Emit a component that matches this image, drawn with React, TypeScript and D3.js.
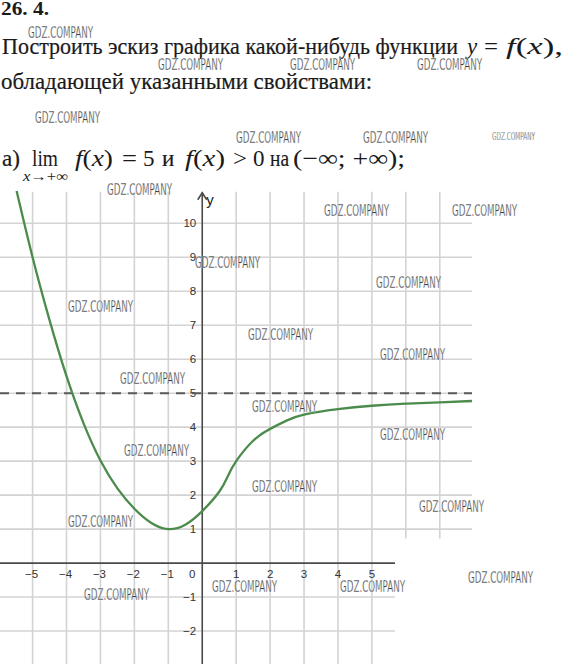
import React from 'react';
import * as d3 from 'd3';

const W = 566;
const H = 664;

// axis extents (data units)
const xDomain: [number, number] = [-5.96, 7.95];
const yDomain: [number, number] = [-2.97, 10.93];
const xLowerRight = 5.68;   // grid/axis right end below the step
const yStep = 0.72;         // where the right part of the grid stops

const xTickValues = [-5, -4, -3, -2, -1, 1, 2, 3, 4, 5];
const yTickValues = [-2, -1, 1, 2, 3, 4, 5, 6, 7, 8, 9, 10];
const gridXFull = [-5, -4, -3, -2, -1, 1, 2, 3, 4, 5];
const gridXUpper = [6, 7];
const gridYUpper = [1, 2, 3, 4, 5, 6, 7, 8, 9, 10];
const gridYLower = [-2, -1];
const asymptoteY = 5;

// curve
const curveX = [-5.47, -5, -4.5, -4, -3.5, -3, -2.5, -2, -1.5, -1, -0.5, 0, 0.5, 0.75, 1, 1.5, 2, 2.5, 3, 4, 5, 6, 7, 7.95];
const curveY = [10.95, 9.0, 7.15, 5.5, 4.12, 3.02, 2.2, 1.6, 1.18, 1.0, 1.13, 1.53, 2.1, 2.55, 3.0, 3.6, 3.95, 4.2, 4.37, 4.53, 4.63, 4.69, 4.73, 4.77];

const WM = 'GDZ.COMPANY';
// watermark layout (left, baseline)
const wmPos: [number, number][] = [
  [28, 38], [158, 70], [290, 70], [417, 70], [35, 123], [236, 143], [363, 143],
  [107, 195], [195, 268], [68, 312], [248, 340], [120, 384], [252, 412], [124, 456],
  [68, 527], [84, 600], [212, 592], [252, 492], [324, 216], [452, 216], [376, 288],
  [380, 360], [380, 440], [419, 512], [468, 583], [340, 592],
];
const wmSmall: [number, number] = [492, 140];

const serif = '"Liberation Serif", "DejaVu Serif", serif';
const sans = '"Liberation Sans", Arial, sans-serif';
const narrow = '"Liberation Sans Narrow", "DejaVu Sans Condensed", "Liberation Sans", sans-serif';

export default function App() {
  const x = d3.scaleLinear().domain(xDomain).range([0, 472]);
  const y = d3.scaleLinear().domain(yDomain).range([664, 191.7]);
  const x0 = x(0);
  const y0 = y(0);

  const pts: [number, number][] = curveX.map((v, i) => [v, curveY[i]]);
  const line = d3
    .line<[number, number]>()
    .x((d) => x(d[0]))
    .y((d) => y(d[1]))
    .curve(d3.curveNatural);

  const gridColor = '#d3d3d3';
  const axisColor = '#4a4a4a';
  const txt = '#1a1a1a';

  return (
    <svg
      width={W}
      height={H}
      viewBox={`0 0 ${W} ${H}`}
      style={{ position: 'absolute', left: 0, top: 0, background: '#fff' }}
    >
      <rect width={W} height={H} fill="#fff" />

      {/* grid */}
      <g stroke={gridColor} strokeWidth={1.6}>
        {gridXFull.map((v) => (
          <line key={'gx' + v} x1={x(v)} x2={x(v)} y1={y(yDomain[1])} y2={H} />
        ))}
        {gridXUpper.map((v) => (
          <line key={'gu' + v} x1={x(v)} x2={x(v)} y1={y(yDomain[1])} y2={y(yStep)} />
        ))}
        {gridYUpper.map((v) => (
          <line key={'hy' + v} x1={x(xDomain[0])} x2={x(xDomain[1])} y1={y(v)} y2={y(v)} />
        ))}
        {gridYLower.map((v) => (
          <line key={'hl' + v} x1={x(xDomain[0])} x2={x(xLowerRight)} y1={y(v)} y2={y(v)} />
        ))}
      </g>

      {/* axes */}
      <g stroke={axisColor} strokeWidth={1.6} fill="none">
        <line x1={x(xDomain[0])} x2={x(xLowerRight)} y1={y0} y2={y0} />
        <line x1={x0} x2={x0} y1={H} y2={y(yDomain[1]) + 0.5} />
        <polyline points={`${x0 - 4.5},${y(yDomain[1]) + 8} ${x0},${y(yDomain[1]) + 1} ${x0 + 4.5},${y(yDomain[1]) + 8}`} />
      </g>
      <text x={x0 + 4} y={205} fontFamily={sans} fontSize={15} fill="#222">y</text>

      {/* tick labels */}
      <g fontFamily={sans} fontSize={11.5} fill="#333">
        {xTickValues.map((v) => (
          <text key={'xt' + v} x={x(v) + (v < 0 ? -1 : 0)} y={y0 + 14.5} textAnchor="middle">
            {v < 0 ? '\u2212' + Math.abs(v) : String(v)}
          </text>
        ))}
        <text x={x0 - 10} y={y0 + 14.5} textAnchor="middle">0</text>
        {yTickValues.map((v) => (
          <text key={'yt' + v} x={x0 - 6} y={y(v) + 4} textAnchor="end">
            {v < 0 ? '\u2212' + Math.abs(v) : String(v)}
          </text>
        ))}
      </g>

      {/* asymptote */}
      <line
        x1={x(xDomain[0])}
        x2={x(xDomain[1])}
        y1={y(asymptoteY)}
        y2={y(asymptoteY)}
        stroke="#5a5a5a"
        strokeWidth={2}
        strokeDasharray="9 7"
      />

      {/* curve */}
      <path d={line(pts) || ''} fill="none" stroke="#4b8b4b" strokeWidth={2.3} />

      {/* header text */}
      <text x={1} y={15} fontFamily={serif} fontWeight="bold" fontSize={18} fill={txt} textLength={48} lengthAdjust="spacingAndGlyphs">
        26. 4.
      </text>
      <g fontFamily={serif} fontSize={23} fill={txt}>
        <g stroke={txt} strokeWidth={0.2}>
          <text x={2} y={53.5} textLength={456} lengthAdjust="spacingAndGlyphs">
            Построить эскиз графика какой-нибудь функции
          </text>
          <text x={1} y={88.5} textLength={371} lengthAdjust="spacingAndGlyphs">
            обладающей указанными свойствами:
          </text>
          <text x={2} y={166} textLength={18} lengthAdjust="spacingAndGlyphs">а)</text>
          <text x={162} y={166}>и</text>
          <text x={270} y={166} textLength={19} lengthAdjust="spacingAndGlyphs">на</text>
        </g>
        <text x={467} y={53.5} fontStyle="italic">y</text>
        <text x={484} y={53.5} textLength={14} lengthAdjust="spacingAndGlyphs">=</text>
        <text x={506} y={53.5} textLength={57} lengthAdjust="spacingAndGlyphs">
          <tspan fontStyle="italic">f</tspan>(<tspan fontStyle="italic">x</tspan>),
        </text>

        <text x={32} y={166} textLength={26} lengthAdjust="spacingAndGlyphs">lim</text>
        <text x={23} y={181} fontSize={14} textLength={45} lengthAdjust="spacingAndGlyphs">
          <tspan fontStyle="italic">x</tspan>→+∞
        </text>
        <text x={75} y={166} textLength={38} lengthAdjust="spacingAndGlyphs">
          <tspan fontStyle="italic">f</tspan>(<tspan fontStyle="italic">x</tspan>)
        </text>
        <text x={122} y={166} textLength={15} lengthAdjust="spacingAndGlyphs">=</text>
        <text x={143} y={166}>5</text>
        <text x={185} y={166} textLength={40} lengthAdjust="spacingAndGlyphs">
          <tspan fontStyle="italic">f</tspan>(<tspan fontStyle="italic">x</tspan>)
        </text>
        <text x={233} y={166} textLength={14} lengthAdjust="spacingAndGlyphs">&gt;</text>
        <text x={253} y={166}>0</text>
        <text x={293} y={166} textLength={112} lengthAdjust="spacingAndGlyphs">(−∞; +∞);</text>
      </g>

      {/* watermarks */}
      <g fontFamily={narrow} fontSize={15} fill="#404040" stroke="#fff" strokeWidth={0.3}>
        {wmPos.map(([wx, wy], i) => (
          <text key={'wm' + i} x={wx} y={wy} textLength={65} lengthAdjust="spacingAndGlyphs">
            {WM}
          </text>
        ))}
        <text x={wmSmall[0]} y={wmSmall[1]} fontSize={10} textLength={43} lengthAdjust="spacingAndGlyphs">
          {WM}
        </text>
      </g>
    </svg>
  );
}
